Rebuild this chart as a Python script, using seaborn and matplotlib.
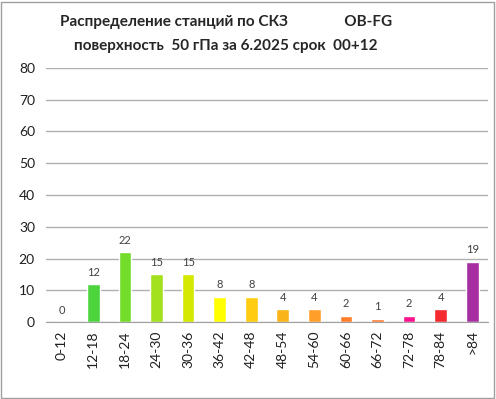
import numpy as np
import pandas as pd
import matplotlib
matplotlib.use('Agg')
import matplotlib.pyplot as plt
import seaborn as sns

categories = ['0-12', '12-18', '18-24', '24-30', '30-36', '36-42', '42-48',
              '48-54', '54-60', '60-66', '66-72', '72-78', '78-84', '>84']
counts = [0, 12, 22, 15, 15, 8, 8, 4, 4, 2, 1, 2, 4, 19]
bar_colors = ['#3cc83c', '#4dd43c', '#73dd2a', '#a3e01e', '#d4e800', '#ffff00',
              '#ffcc11', '#f8b418', '#ff9f2a', '#ff7f2a', '#ff7a30', '#ff1090',
              '#f52a30', '#a62ea0']

sns.set_style('white')
plt.rcParams['font.family'] = ['Lato', 'DejaVu Sans']

df = pd.DataFrame({'cat': categories, 'n': counts})

fig = plt.figure(figsize=(4.96, 3.99), dpi=100)
ax = fig.add_axes([46/496, 1 - 322/399, (488 - 46)/496, (322 - 68)/399])

sns.barplot(data=df, x='cat', y='n', hue='cat', palette=bar_colors,
            legend=False, width=0.4, ax=ax, saturation=1)

for i, v in enumerate(counts):
    ax.text(i, v + 2, str(v), ha='center', va='bottom', fontsize=8, color='#404040')

ax.set_ylim(0, 80)
ax.set_yticks(range(0, 81, 10))
ax.set_xlim(-0.5, len(categories) - 0.5)
ax.yaxis.grid(True, color='#b0b0b0', linewidth=1)
ax.set_axisbelow(True)
for s in ['top', 'right', 'left']:
    ax.spines[s].set_visible(False)
ax.spines['bottom'].set_color('#a0a0a0')
ax.set_xlabel('')
ax.set_ylabel('')
ax.tick_params(axis='y', length=0, labelsize=10, colors='#202020', pad=8)
ax.set_xticks(np.arange(len(categories)))
ax.set_xticklabels(categories, rotation=90, fontsize=10, color='#202020')
ax.tick_params(axis='x', length=0, pad=6)
# Excel-style tick marks at category boundaries
ax.set_xticks(np.arange(len(categories) + 1) - 0.5, minor=True)
ax.tick_params(axis='x', which='minor', length=4, color='#a0a0a0', direction='out')

fig.text(0.455, 0.935, 'Распределение станций по СКЗ               OB-FG',
         ha='center', fontsize=11, fontweight='bold')
fig.text(0.455, 0.875, 'поверхность  50 гПа за 6.2025 срок  00+12',
         ha='center', fontsize=11, fontweight='bold')

fig.patches.append(plt.Rectangle((0.002, 0.002), 0.994, 0.994, transform=fig.transFigure,
                                 fill=False, edgecolor='#a0a0a0', linewidth=1))

fig.savefig('out.png', dpi=100)
